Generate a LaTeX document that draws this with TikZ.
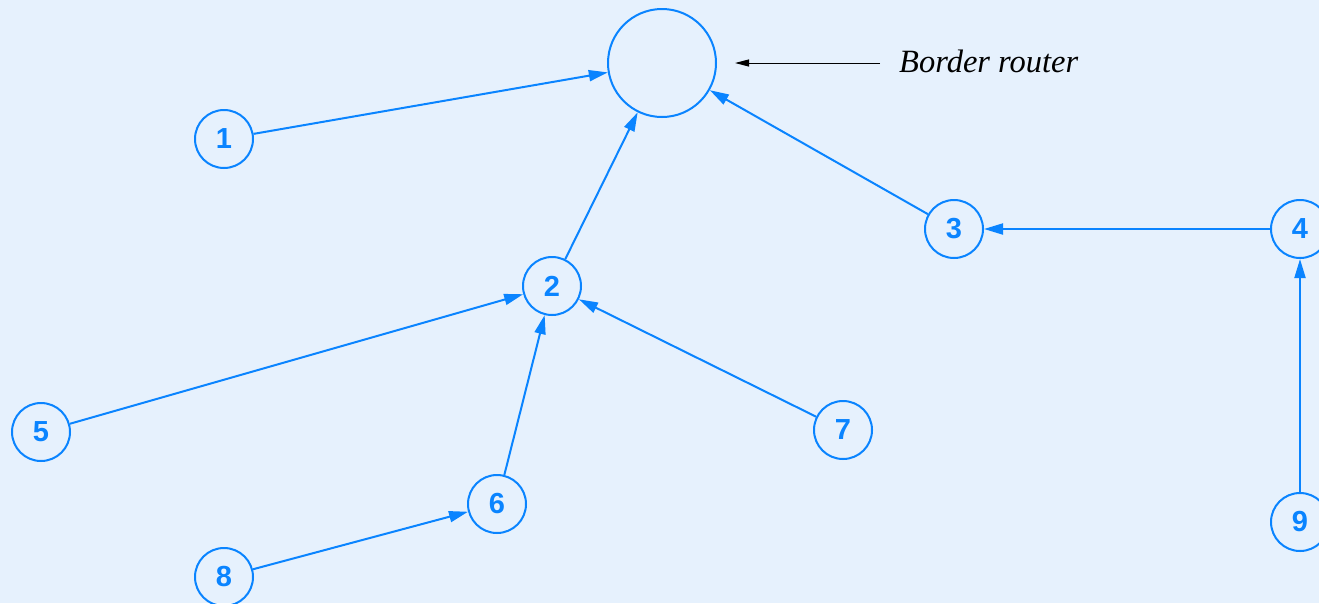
\documentclass[tikz,border=0pt]{standalone}
\usepackage{fontspec}
\setmainfont{Liberation Serif}
\newfontfamily\nodefont{Liberation Sans}
\usetikzlibrary{arrows.meta}
\definecolor{bg}{RGB}{230,241,253}
\definecolor{nodeblue}{RGB}{10,132,255}
\tikzset{
  netnode/.style={circle,draw=nodeblue,line width=2pt,minimum size=58pt,inner sep=0pt,
    text=nodeblue,font=\nodefont\bfseries\fontsize{29}{32}\selectfont},
  brnode/.style={circle,draw=nodeblue,line width=2pt,minimum size=108pt,inner sep=0pt},
  link/.style={draw=nodeblue,line width=2pt,-{Triangle[length=19pt,width=11pt]}},
  pointer/.style={draw=black,line width=1pt,-{Triangle[length=14pt,width=7pt]}}
}
\begin{document}
\begin{tikzpicture}[x=1pt,y=-1pt]
\fill[bg] (0,0) rectangle (1319,603);
\useasboundingbox (0,0) rectangle (1319,603);
\node[brnode] (br) at (662,63) {};
\node[netnode] (n1) at (224,139) {1};
\node[netnode] (n2) at (552,286) {2};
\node[netnode] (n3) at (954,229) {3};
\node[netnode] (n4) at (1300,229) {4};
\node[netnode] (n5) at (41,432) {5};
\node[netnode] (n6) at (497,504) {6};
\node[netnode] (n7) at (843,430) {7};
\node[netnode] (n8) at (224,577) {8};
\node[netnode] (n9) at (1300,522) {9};
\node[anchor=west,inner sep=0pt,font=\itshape\fontsize{32.5}{35}\selectfont] (lbl) at (899,61) {Border router};
\coordinate (ps) at (880,63);
\coordinate (pe) at (735,63);
\draw[pointer] (ps) -- (pe);
\draw[link] (n1) -- (br);
\draw[link] (n2) -- (br);
\draw[link] (n3) -- (br);
\draw[link] (n4) -- (n3);
\draw[link] (n9) -- (n4);
\draw[link] (n5) -- (n2);
\draw[link] (n6) -- (n2);
\draw[link] (n7) -- (n2);
\draw[link] (n8) -- (n6);
\end{tikzpicture}
\end{document}
